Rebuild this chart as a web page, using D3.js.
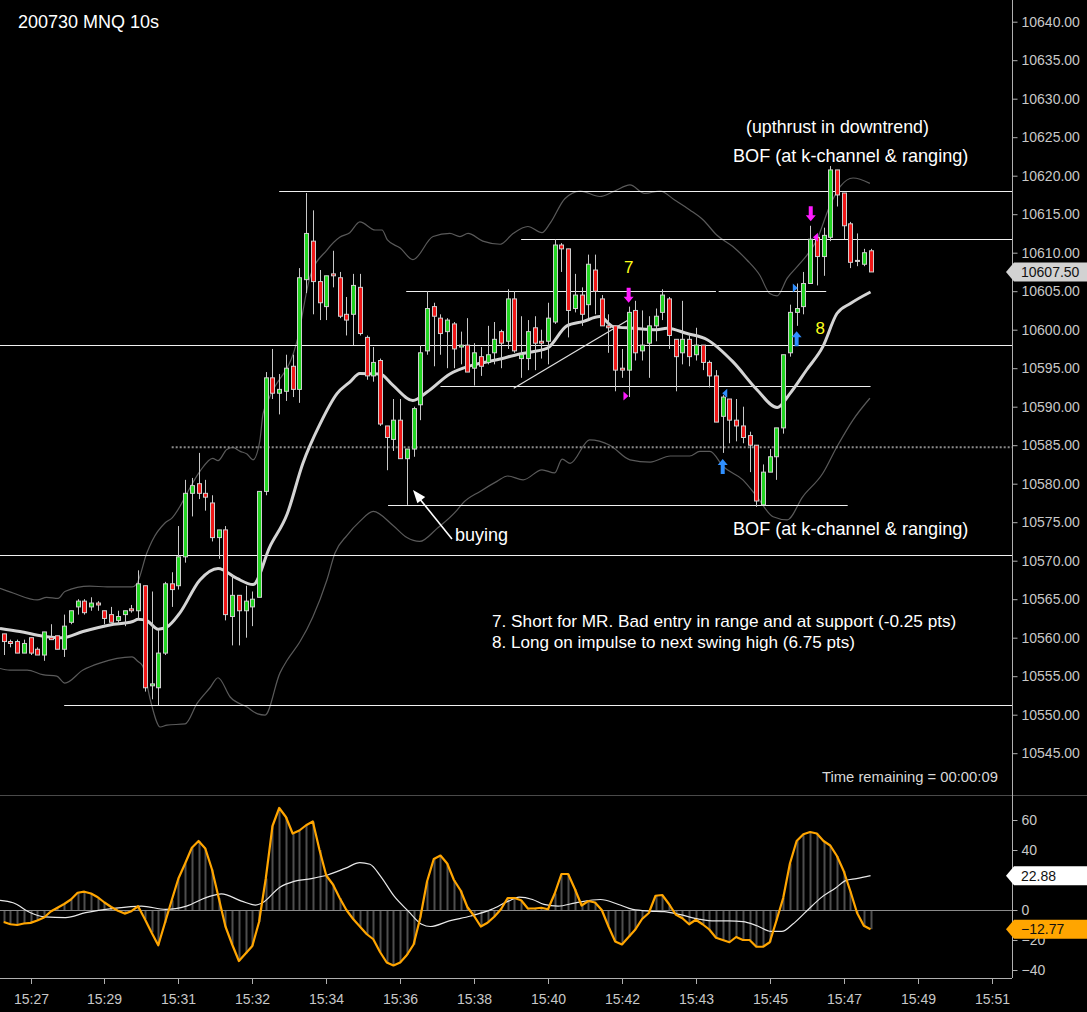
<!DOCTYPE html>
<html>
<head>
<meta charset="utf-8">
<script src="https://cdnjs.cloudflare.com/ajax/libs/d3/7.8.5/d3.min.js"></script>
<style>
  body { margin: 0; background: #000; }
  svg { display: block; font-family: "Liberation Sans", Arial, sans-serif; }
</style>
</head>
<body>
<svg width="1087" height="1012"></svg>
<script>
// 10s bars, index 0 = 15:26:40
var opens = [10560.5,10559.5,10559.5,10558,10560,10558.5,10557.75,10560,10560.25,10558.5,
  10562,10564,10564.75,10564,10564.5,10563.5,10563,10562.25,10563,10563.75,
  10563.5,10566.75,10553.75,10553.5,10558,10567,10566.75,10570.5,10578.75,10580,
  10578.75,10577.5,10573,10574,10562.75,10565.5,10563.5,10564,10565.25,10579,
  10593.75,10591.75,10592,10595.25,10592.25,10606.5,10611.5,10606.25,10603,10607.25,
  10606.75,10602,10602,10605.5,10599,10594,10596,10587.5,10585.75,10588.25,
  10583.25,10584.5,10590.25,10597.25,10603,10601.5,10599.75,10600.75,10597.75,10598,
  10595,10596.5,10595.75,10597,10599.75,10598.5,10604,10596.25,10596.25,10600.25,
  10598.5,10598.5,10601,10611,10610.5,10602.75,10604.5,10603.25,10607.75,10604,
  10600.5,10600.5,10595,10594.75,10602.5,10597.25,10598.25,10600.5,10602.25,10604,
  10598.75,10597,10598.75,10596.75,10598,10595.75,10594,10588.75,10591,10588.25,
  10587.5,10586.25,10585,10577.25,10581.5,10583.5,10587.25,10597,10602.25,10603,
  10606,10612,10609.5,10612,10620.75,10617.75,10613.75,10609,10608.5,10610.25];
var highs = [10560.5,10559.75,10559.75,10559.75,10560,10558.75,10560.75,10561.75,10560.25,10563,
  10563.5,10565,10565,10565.25,10564.75,10563.5,10564,10563.5,10563.5,10564.25,
  10568.75,10566.75,10566,10561,10567.25,10568.5,10574.5,10580.5,10580.75,10584,
  10580.5,10578.5,10574,10574.5,10568.25,10565.5,10566.75,10566,10579,10594.5,
  10597.5,10594.25,10596.75,10596.75,10608,10617.75,10615.5,10607.75,10607,10610.25,
  10607.5,10604.25,10607.25,10607.25,10599.25,10597.75,10596.25,10587.5,10591,10591,
  10584.5,10590,10598,10605,10603.5,10602,10601.5,10601,10599.75,10601.5,
  10598.25,10597.75,10600.5,10601,10600,10605.25,10605,10601.75,10601.25,10601.75,
  10600,10603.5,10611.75,10611.25,10610.5,10607.25,10605.5,10609.75,10609.75,10604.5,
  10602,10600.5,10597.5,10603,10603.75,10602.5,10601.75,10602.75,10605.25,10604.25,
  10598.75,10603.75,10599.25,10600.25,10598,10596,10594.75,10591.5,10591,10591,
  10590,10586.75,10585,10582.5,10584.5,10587.25,10596.75,10603.25,10606,10607.5,
  10613.5,10612.25,10613.25,10621.25,10620.75,10617.75,10614,10612.5,10610.5,10610.5];
var lows = [10557.75,10558.75,10558,10558,10557.75,10557.75,10557,10559.75,10558.5,10557.5,
  10561.75,10563,10563,10563.5,10563.5,10561.75,10562,10561.75,10561.5,10563.25,
  10562.5,10553,10552,10551.25,10557.75,10564,10566.25,10569.75,10575.75,10578,
  10576.5,10572.5,10570.25,10562.25,10559,10559,10560,10561.5,10565.25,10578.5,
  10591,10589,10590.75,10591.25,10590.5,10604.75,10602,10601.25,10601.25,10605.5,
  10601.5,10599.25,10598,10599.25,10593.5,10593.25,10587.5,10581.75,10584.25,10583.25,
  10577.25,10583.5,10588.25,10596.75,10595.25,10596.75,10595,10595,10595.5,10594.5,
  10592.75,10594,10595.5,10595.5,10595,10597.5,10597,10593.75,10594.75,10594.75,
  10596.25,10595.5,10600.75,10607.5,10599,10602.25,10600.5,10601.5,10602,10600.5,
  10597,10592,10593.75,10591.25,10596,10596,10593.75,10598.5,10601.25,10597.5,
  10592,10595.5,10595.25,10596,10594.75,10592.5,10588,10584,10585.25,10585.5,
  10585.25,10581.5,10577,10577.25,10581.5,10580.5,10586.5,10596.5,10600.5,10602,
  10606,10605.75,10607,10611.5,10616,10611.75,10608,10608.25,10608.25,10607.5];
var closes = [10559.5,10559.25,10558,10559.25,10558,10557.75,10560.75,10559.75,10558.5,10561.5,
  10563.5,10564.75,10563.25,10564.5,10564.25,10562.5,10562,10562.75,10563.5,10563.5,
  10567,10553.5,10554,10558,10567,10566.25,10570.5,10578.75,10579.75,10578.75,
  10578.25,10573,10574,10563,10565.5,10563.5,10564.75,10565,10579,10593.75,
  10591.75,10592.25,10595,10592.25,10606.75,10612.5,10606.25,10603.5,10607,10607,
  10601.75,10601.25,10605.75,10599.5,10594,10595.75,10587.75,10586,10588.25,10583.25,
  10584.5,10589.75,10597,10602.75,10601.75,10599.5,10601.25,10597.5,10598,10594.5,
  10597,10595.25,10596.75,10598.75,10598.25,10604,10597.25,10596.75,10599.75,10598.25,
  10598.25,10601.5,10611,10610.5,10602.5,10604.5,10602,10608.5,10605,10600.5,
  10600.25,10594.75,10594.75,10602.25,10597,10598,10600.5,10601.75,10604.5,10599.25,
  10596.5,10598.75,10596.5,10598,10595.75,10594,10588,10591.25,10588.25,10587.5,
  10586,10585,10577.75,10581.5,10583.5,10587.25,10596.75,10602.25,10602.75,10606,
  10611.75,10609.5,10612.25,10620.75,10617.5,10613.5,10608.75,10609,10610,10607.5];

// channel middle line and bands, read at [bar, price]
var midLine = [[-0.55,10561.2],[2.4,10560.8],[5.9,10560.2],[8.8,10560],[11.8,10560.8],[15.8,10561.65],
  [19.2,10562.1],[20,10562.4],[21.3,10562.2],[23,10561.1],[24.3,10561.4],[26.2,10563.2],[29.2,10567.5],
  [31.9,10569],[34.7,10567.7],[37.1,10566.9],[39.6,10571.8],[42.2,10576.1],[44.5,10582.6],[47.1,10587.8],
  [49.6,10591.7],[51.5,10593.2],[53,10594.3],[56,10594.25],[57.9,10592.8],[60.9,10590.8],[63,10591.9],
  [66.4,10594.25],[69.8,10595.4],[73.4,10596.1],[76.8,10596.85],[80.9,10597.6],[83.8,10600.5],
  [86.2,10601.05],[88.7,10601.7],[90.7,10600.4],[93.6,10600.2],[97.2,10600],[98.7,10600.2],
  [101.7,10599.5],[104.7,10598.7],[108.5,10595.85],[112.1,10592.2],[115.1,10589.9],[117,10591.7],
  [119.5,10594.8],[121.9,10597.8],[124,10602.1],[126,10603.4],[129,10604.9]];
var upperBand = [[-0.55,10566.4],[1.4,10565.8],[5,10564.9],[6.4,10565.25],[8.1,10565.1],[9.1,10566],
  [12.8,10566.7],[15.4,10566.6],[19.1,10566.6],[19.8,10567],[21.3,10571],[22.1,10572.6],[24,10574.9],
  [25.1,10575.6],[26.2,10577],[27.3,10578.8],[29.2,10581.6],[31.1,10583.3],[31.9,10583],[33.2,10584.45],
  [34.1,10584.7],[35.2,10584.2],[36.2,10583.85],[37.1,10583.1],[38.1,10585.5],[38.6,10589.1],
  [39.6,10591.3],[43.7,10598.7],[45.6,10606.9],[48.1,10610.35],[50,10612],[51.5,10612.6],[53,10614],
  [55.3,10612.95],[56.3,10612.95],[57.1,10611.65],[59,10610.6],[60.9,10609.1],[63.9,10612.1],
  [66.4,10612.5],[67.9,10612.1],[69.1,10612.5],[71.3,10611.5],[73.9,10611.1],[75.8,10612.5],
  [78,10613.4],[80.1,10612.6],[81.3,10613.8],[83.5,10617],[85.8,10618],[88.7,10617.3],[90.9,10618],
  [93.2,10618.8],[95.4,10617.7],[97.7,10618],[99.9,10616.8],[102.1,10615.55],[104.1,10614.25],
  [106.1,10612.3],[108.5,10610.8],[110.6,10609.05],[112.5,10607.1],[114,10604.7],[115.1,10604.4],
  [116.6,10606.7],[118.5,10608.6],[121,10611.65],[122.9,10616],[124.5,10618.6],[126.4,10619.7],
  [128.9,10619]];
var lowerBand = [[-0.55,10556],[0.9,10555.8],[3.5,10555.8],[5.8,10555.2],[7.9,10555],[9.1,10554.1],
  [11.8,10555.8],[14.3,10556.7],[19.1,10557.5],[20,10556.9],[20.7,10556.3],[21.8,10552],[23.3,10548.4],
  [24.3,10548.65],[27,10548.8],[28.8,10551.5],[30.7,10553.5],[31.9,10554.8],[33.7,10552.3],[36.2,10551],
  [37.8,10550.1],[38.9,10549.95],[41.1,10555.4],[42.2,10557.1],[44.1,10559.5],[46,10562.7],
  [48.1,10567.5],[49.3,10571],[51.1,10573.3],[53,10575.1],[55,10576.4],[57.9,10574.6],[60,10573],
  [61.9,10572.5],[64.5,10574.2],[67.5,10576.6],[68.3,10577.45],[70.9,10579],[73.4,10580.3],
  [75,10581],[77.3,10580.5],[80.1,10581.8],[82,10581.4],[83.1,10583.2],[84.3,10582.65],
  [87.2,10585.7],[90.2,10585],[93.2,10583.1],[96.2,10582.8],[99.2,10583.6],[102.1,10583.6],
  [103.6,10584.2],[105.1,10584.2],[107.1,10582.2],[110,10580.5],[112.1,10578.3],[114.5,10575.7],
  [116.6,10575.3],[118.9,10578.3],[121.9,10581.35],[124,10584.8],[126.4,10588.3],[128.9,10591.1]];

// oscillator per bar + its signal line
var oscValues = [-8,-9.5,-10,-9,-8.6,-7,-5,-1,1.5,4,
  7,11.5,12.2,11,8.5,5,2,-0.5,-2.4,-0.8,
  2.5,-6,-15,-23.5,-8.5,6.5,21,31,41.5,46,
  41,27,8,-11,-23,-34,-29,-24,-8,21,
  56,68,62,51,53,56.5,59,40,23,17,
  8,0,-6,-11,-16,-19.5,-28,-35,-37,-35,
  -30,-23,-5,19,34,36.3,31,20,13,2,
  -4,-11,-8.5,-4.5,0.5,8,8,6.5,1,1,
  1.5,0.5,11,24,24,14,3,6,5,0,
  -11,-21,-23,-18,-13,-6,-2,9.5,10,4,
  -3,-5.5,-9.5,-6.5,-9.5,-13,-18.5,-20,-21.5,-18,
  -20,-20,-24.5,-24.5,-21.5,-7,8,31,46,50.5,
  52,51,46,43,36,26,12.5,-2,-10.5,-12.77];
var signalLine = [[-0.55,6.4],[1.4,4.8],[4,-1.8],[6.1,-4.6],[9.2,-5.1],[12.2,-1.8],[16.4,1.1],[20.5,2.6],
  [24.1,0.4],[27.2,2.6],[30.3,8.6],[32.4,10.8],[35.4,5.9],[37.5,3.3],[38.5,4.8],[41.1,15.2],[43.2,19.1],
  [45.8,20.9],[48.3,23.5],[50.9,27.9],[53,31.6],[54.5,30.5],[56.1,22.4],[58.1,9.2],[60.2,-0.7],
  [62.2,-9.5],[63.5,-11],[66.3,-7.3],[69.5,-4],[72.6,0.4],[75.1,5.9],[76.7,8.6],[78.7,7],[80.4,3.7],
  [82.5,2.6],[85.1,4.8],[88.8,7],[91.5,3.7],[93.6,0.4],[96.2,-0.7],[98.3,-1.1],[100.5,-2.9],
  [103.6,-6.2],[105.8,-7.3],[107.9,-7.3],[110,-7.7],[112.1,-10.5],[114.2,-14.3],[115.8,-14.3],
  [117.4,-9.5],[119.5,-0.7],[121.6,8.1],[123.8,14.7],[125.3,19.6],[126.9,20.9],[129,22.88]];

// drawn levels: price, from bar, to bar
var levelPrices = [10618, 10611.75, 10605, 10605, 10598, 10592.75, 10577.25, 10570.75, 10551.25];
var levelFrom = [41, 77, 59.9, 106.4, -0.55, 65, 57.2, -0.55, 9];
var levelTo = [150.05, 150.05, 106, 122.4, 150.05, 129, 125.6, 150.05, 150.05];
var dottedLevel = [25, 10584.75];
var trendLine = [[75.9, 10592.4], [93, 10601.3]];

// trade markers [bar, price]
var shortArrows = [[93, 10603.5], [120.1, 10614.1]];
var longArrows = [[107, 10583.2], [118, 10599.8]];
var shortExits = [[92.6, 10591.4]];
var shortEntries2 = [[120.8, 10612]];
var longEntries = [[107.3, 10591.75]];
var longEntries2 = [[117.8, 10605.4]];
var tradeLabels = ['7', '8'];
var tradeLabelPos = [[93, 10607.3], [121.5, 10599.5]];

var priceTicks = d3.range(10545, 10641, 5);
var oscTicks = [60, 40, 0, -20, -40];
var timeLabels = ['15:27','15:29','15:31','15:32','15:34','15:36','15:38','15:40','15:42','15:43','15:45','15:47','15:49','15:51'];
var timeBars = [4, 15, 26, 37, 48, 59, 70, 81, 92, 103, 114, 125, 136, 147];
var lastPrice = 10607.50;
var oscLast = -12.77, sigLast = 22.88;

var svg = d3.select('svg'),
    W = 1087, axisX = 1012;

svg.append('rect').attr('width', W).attr('height', 1012).attr('fill', '#000');

var x = d3.scaleLinear().domain([-0.55, 150.05]).range([0, axisX]),
    y = d3.scaleLinear().domain([10640, 10545]).range([21.7, 753.2]),
    yo = d3.scaleLinear().domain([60, -40]).range([820, 970]);

var defs = svg.append('defs');
defs.append('clipPath').attr('id', 'cMain').append('rect')
  .attr('x', 0).attr('y', 0).attr('width', axisX).attr('height', 794);
defs.append('clipPath').attr('id', 'cOsc').append('rect')
  .attr('x', 0).attr('y', 796).attr('width', axisX).attr('height', 182);

var main = svg.append('g').attr('clip-path', 'url(#cMain)');
var osc = svg.append('g').attr('clip-path', 'url(#cOsc)');

var lineFn = d3.line()
  .curve(d3.curveMonotoneX)
  .x(function(d) { return x(d[0]); })
  .y(function(d) { return y(d[1]); });

// bands
[upperBand, lowerBand].forEach(function(b) {
  main.append('path')
    .attr('d', lineFn(b))
    .attr('fill', 'none')
    .attr('stroke', '#5a5a5a')
    .attr('stroke-width', 1.2);
});

// levels
main.append('line')
  .attr('x1', x(dottedLevel[0])).attr('x2', x(150.05))
  .attr('y1', y(dottedLevel[1])).attr('y2', y(dottedLevel[1]))
  .attr('stroke', '#8a8a8a').attr('stroke-width', 2)
  .attr('stroke-dasharray', '2,2');

levelPrices.forEach(function(p, i) {
  var yy = Math.round(y(p)) + 0.5;
  main.append('line')
    .attr('x1', x(levelFrom[i])).attr('x2', x(levelTo[i]))
    .attr('y1', yy).attr('y2', yy)
    .attr('stroke', '#f0f0f0').attr('stroke-width', 1);
});

main.append('line')
  .attr('x1', x(trendLine[0][0])).attr('y1', y(trendLine[0][1]))
  .attr('x2', x(trendLine[1][0])).attr('y2', y(trendLine[1][1]))
  .attr('stroke', '#e0e0e0').attr('stroke-width', 1.2);

// middle line
main.append('path')
  .attr('d', lineFn(midLine))
  .attr('fill', 'none')
  .attr('stroke', '#d4d4d4')
  .attr('stroke-width', 3);

// candles
var bars = d3.range(opens.length);
var cg = main.append('g');
cg.selectAll('line.wick').data(bars).enter().append('line')
  .attr('class', 'wick')
  .attr('x1', function(i) { return Math.round(x(i)) + 0.5; })
  .attr('x2', function(i) { return Math.round(x(i)) + 0.5; })
  .attr('y1', function(i) { return y(highs[i]); })
  .attr('y2', function(i) { return y(lows[i]); })
  .attr('stroke', '#c8c8c8').attr('stroke-width', 1);

cg.selectAll('rect.body').data(bars).enter().append('rect')
  .attr('class', 'body')
  .attr('x', function(i) { return Math.round(x(i)) - 1.5; })
  .attr('y', function(i) { return y(Math.max(opens[i], closes[i])); })
  .attr('width', 4)
  .attr('height', function(i) { return Math.max(1, Math.abs(y(opens[i]) - y(closes[i]))); })
  .attr('fill', function(i) {
    if (closes[i] > opens[i]) return '#22d422';
    if (closes[i] < opens[i]) return '#f01818';
    return '#c8c8c8';
  })
  .attr('stroke', '#cfcfcf').attr('stroke-width', 1);

// arrows
function arrowPath(cx, ty, dir) {
  // dir 1 = pointing down (tip at ty), -1 = pointing up
  var pts = [[-2,-15],[2,-15],[2,-6],[5,-6],[0,0],[-5,-6],[-2,-6]];
  return 'M' + pts.map(function(p) { return (cx + p[0]) + ',' + (ty + p[1] * dir); }).join('L') + 'Z';
}
function triPath(cx, cy, dir) {
  // dir 1 = pointing right, -1 = pointing left
  return 'M' + (cx - 2.5 * dir) + ',' + (cy - 4.5) + 'L' + (cx + 2.5 * dir) + ',' + cy +
    'L' + (cx - 2.5 * dir) + ',' + (cy + 4.5) + 'Z';
}
shortArrows.forEach(function(d) {
  main.append('path').attr('d', arrowPath(x(d[0]), y(d[1]), 1)).attr('fill', '#ff1aff');
});
longArrows.forEach(function(d) {
  main.append('path').attr('d', arrowPath(x(d[0]), y(d[1]), -1)).attr('fill', '#2f8fff');
});
shortExits.forEach(function(d) {
  main.append('path').attr('d', triPath(x(d[0]), y(d[1]), 1)).attr('fill', '#ff1aff');
});
shortEntries2.forEach(function(d) {
  main.append('path').attr('d', triPath(x(d[0]), y(d[1]), -1)).attr('fill', '#ff1aff');
});
longEntries.forEach(function(d) {
  main.append('path').attr('d', triPath(x(d[0]), y(d[1]), -1)).attr('fill', '#2f8fff');
});
longEntries2.forEach(function(d) {
  main.append('path').attr('d', triPath(x(d[0]), y(d[1]), 1)).attr('fill', '#2f8fff');
});
tradeLabels.forEach(function(t, i) {
  main.append('text')
    .attr('x', x(tradeLabelPos[i][0])).attr('y', y(tradeLabelPos[i][1]))
    .attr('text-anchor', 'middle')
    .attr('font-size', 17)
    .attr('fill', '#ffff1a')
    .text(t);
});

// "buying" arrow
main.append('line')
  .attr('x1', 452).attr('y1', 539).attr('x2', 419).attr('y2', 498)
  .attr('stroke', '#fff').attr('stroke-width', 1.6);
main.append('path')
  .attr('d', 'M413,490L417.4,503.3L425.2,497.1Z')
  .attr('fill', '#fff');

// annotations
var notes = [
  ['200730 MNQ 10s', 18, 28, 18, '#ffffff'],
  ['(upthrust in downtrend)', 746, 133, 17.8, '#ffffff'],
  ['BOF (at k-channel & ranging)', 733, 162, 18.1, '#ffffff'],
  ['BOF (at k-channel & ranging)', 733, 535, 18.1, '#ffffff'],
  ['buying', 455, 541, 18, '#ffffff'],
  ['7. Short for MR. Bad entry in range and at support (-0.25 pts)', 492, 627, 17.2, '#ffffff'],
  ['8. Long on impulse to next swing high (6.75 pts)', 492, 648, 17.1, '#ffffff'],
  ['Time remaining = 00:00:09', 822, 782, 14.8, '#d8d8d8']
];
notes.forEach(function(n) {
  svg.append('text')
    .attr('x', n[1]).attr('y', n[2])
    .attr('font-size', n[3])
    .attr('fill', n[4])
    .text(n[0]);
});

// oscillator panel
svg.append('line')
  .attr('x1', 0).attr('x2', W).attr('y1', 795.5).attr('y2', 795.5)
  .attr('stroke', '#4a4a4a');

osc.selectAll('line.hist').data(bars).enter().append('line')
  .attr('x1', function(i) { return Math.round(x(i)) + 0.5; })
  .attr('x2', function(i) { return Math.round(x(i)) + 0.5; })
  .attr('y1', yo(0))
  .attr('y2', function(i) { return yo(oscValues[i]); })
  .attr('stroke', '#4e4e4e').attr('stroke-width', 2);

osc.append('line')
  .attr('x1', 0).attr('x2', axisX).attr('y1', Math.round(yo(0)) + 0.5).attr('y2', Math.round(yo(0)) + 0.5)
  .attr('stroke', '#8a8a8a');

osc.append('path')
  .attr('d', d3.line().curve(d3.curveMonotoneX)
    .x(function(d) { return x(d[0]); })
    .y(function(d) { return yo(d[1]); })(signalLine))
  .attr('fill', 'none').attr('stroke', '#e8e8e8').attr('stroke-width', 1.2);

osc.append('path')
  .attr('d', d3.line()
    .x(function(d, i) { return x(i); })
    .y(function(d) { return yo(d); })(oscValues))
  .attr('fill', 'none').attr('stroke', '#ffa500').attr('stroke-width', 2.2)
  .attr('stroke-linejoin', 'round');

// right axis
svg.append('line')
  .attr('x1', axisX + 0.5).attr('x2', axisX + 0.5).attr('y1', 0).attr('y2', 978)
  .attr('stroke', '#b0b0b0');

var pAxis = svg.append('g').attr('transform', 'translate(' + (axisX + 0.5) + ',0)')
  .call(d3.axisRight(y).tickValues(priceTicks).tickSize(5).tickPadding(4)
    .tickFormat(d3.format('.2f')));
var oAxis = svg.append('g').attr('transform', 'translate(' + (axisX + 0.5) + ',0)')
  .call(d3.axisRight(yo).tickValues(oscTicks).tickSize(5).tickPadding(4));
[pAxis, oAxis].forEach(function(a) {
  a.select('.domain').remove();
  a.selectAll('line').attr('stroke', '#b0b0b0');
  a.selectAll('text').attr('fill', '#c8c8c8').attr('font-size', 14)
    .attr('font-family', '"Liberation Sans", Arial, sans-serif');
});

// value flags on the right
function flag(yy, label, bg, fg) {
  var h = 19, x0 = axisX - 6;
  svg.append('path')
    .attr('d', 'M' + x0 + ',' + yy + 'L' + (axisX + 2) + ',' + (yy - h / 2) + 'L' + W + ',' + (yy - h / 2) +
      'L' + W + ',' + (yy + h / 2) + 'L' + (axisX + 2) + ',' + (yy + h / 2) + 'Z')
    .attr('fill', bg);
  svg.append('text')
    .attr('x', axisX + 9).attr('y', yy + 5)
    .attr('font-size', 14).attr('fill', fg)
    .text(label);
}
flag(y(lastPrice), d3.format('.2f')(lastPrice), '#d2d2d2', '#111');
flag(yo(sigLast), d3.format('.2f')(sigLast), '#ffffff', '#111');
flag(yo(oscLast), d3.format('.2f')(oscLast), '#ffa500', '#111');

// time axis
svg.append('line')
  .attr('x1', 0).attr('x2', axisX).attr('y1', 978.5).attr('y2', 978.5)
  .attr('stroke', '#b0b0b0');
timeLabels.forEach(function(t, i) {
  var tx = Math.round(x(timeBars[i])) + 0.5;
  svg.append('line')
    .attr('x1', tx).attr('x2', tx).attr('y1', 979).attr('y2', 984)
    .attr('stroke', '#b0b0b0');
  svg.append('text')
    .attr('x', tx).attr('y', 1004)
    .attr('text-anchor', 'middle')
    .attr('font-size', 14).attr('fill', '#c8c8c8')
    .text(t);
});
</script>
</body>
</html>
